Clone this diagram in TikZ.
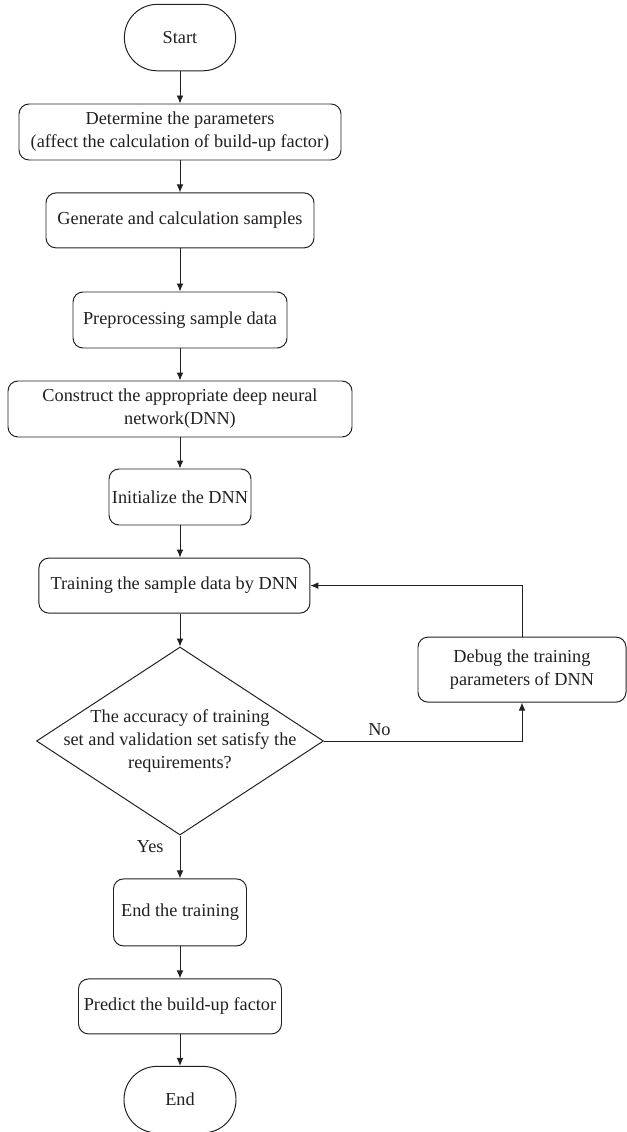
\documentclass[tikz,border=0pt]{standalone}
\usepackage{fontspec}
\setmainfont{Liberation Serif}
\usetikzlibrary{arrows.meta,shapes.geometric}
\definecolor{ink}{HTML}{231F20}

\begin{document}
\begin{tikzpicture}[>={Latex[length=2mm,width=1.7mm]},line width=0.7pt,draw=ink,text=ink,
  font=\fontsize{13}{16.3}\selectfont,
  box/.style={draw=ink,rounded corners=0.25cm,inner sep=0pt,align=center},
  term/.style={draw=ink,rounded corners=0.82cm,inner sep=0pt,minimum width=2.78cm,minimum height=1.66cm},
  decide/.style={draw=ink,diamond,aspect=1.528,inner xsep=-0.55cm,inner ysep=0pt,align=center,minimum width=7.175cm,minimum height=4.7cm}]
\useasboundingbox (0,0) rectangle (15.65,-28.3);
\node[term] (start) at (4.5,-0.94) {Start};
\node[box,minimum width=8.05cm,minimum height=1.4cm] (det) at (4.5,-3.3) {Determine the parameters\\(affect the calculation of build-up factor)};
\node[box,minimum width=6.7cm,minimum height=1.375cm] (gen) at (4.5,-5.51) {Generate and calculation samples};
\node[box,minimum width=5.35cm,minimum height=1.4cm] (pre) at (4.5,-8.0) {Preprocessing sample data};
\node[box,minimum width=8.6cm,minimum height=1.4cm] (con) at (4.5,-10.225) {Construct the appropriate deep neural\\network(DNN)};
\node[box,minimum width=3.55cm,minimum height=1.4cm] (ini) at (4.5,-12.425) {Initialize the DNN};
\node[box,minimum width=6.775cm,minimum height=1.375cm] (tra) at (4.36,-14.64) {Training the sample data by DNN};
\node[decide] (dec) at (4.5,-18.525) {The accuracy of training\\set and validation set satisfy the\\requirements?};
\node[box,minimum width=5.2cm,minimum height=1.625cm] (dbg) at (13.05,-16.74) {Debug the training\\parameters of DNN};
\node[box,minimum width=3.325cm,minimum height=1.675cm] (endt) at (4.5,-22.81) {End the training};
\node[box,minimum width=5.075cm,minimum height=1.375cm] (pred) at (4.5,-25.16) {Predict the build-up factor};
\node[term,minimum width=2.8cm] (end) at (4.5,-27.49) {End};
\draw[->] (start) -- (det);
\draw[->] (det) -- (gen);
\draw[->] (gen) -- (pre);
\draw[->] (pre) -- (con);
\draw[->] (con) -- (ini);
\draw[->] (ini) -- (ini |- tra.north);
\draw[->] (tra.south -| dec.north) -- (dec.north);
\draw[->] (dec.east) -| (dbg.south) node[pos=0.14,above] {No};
\draw[->] (dbg.north) |- (tra.east);
\draw[->] (dec.south) -- (endt.north) node[pos=0.27,left=8pt] {Yes};
\draw[->] (endt) -- (pred);
\draw[->] (pred) -- (end);
\end{tikzpicture}
\end{document}
